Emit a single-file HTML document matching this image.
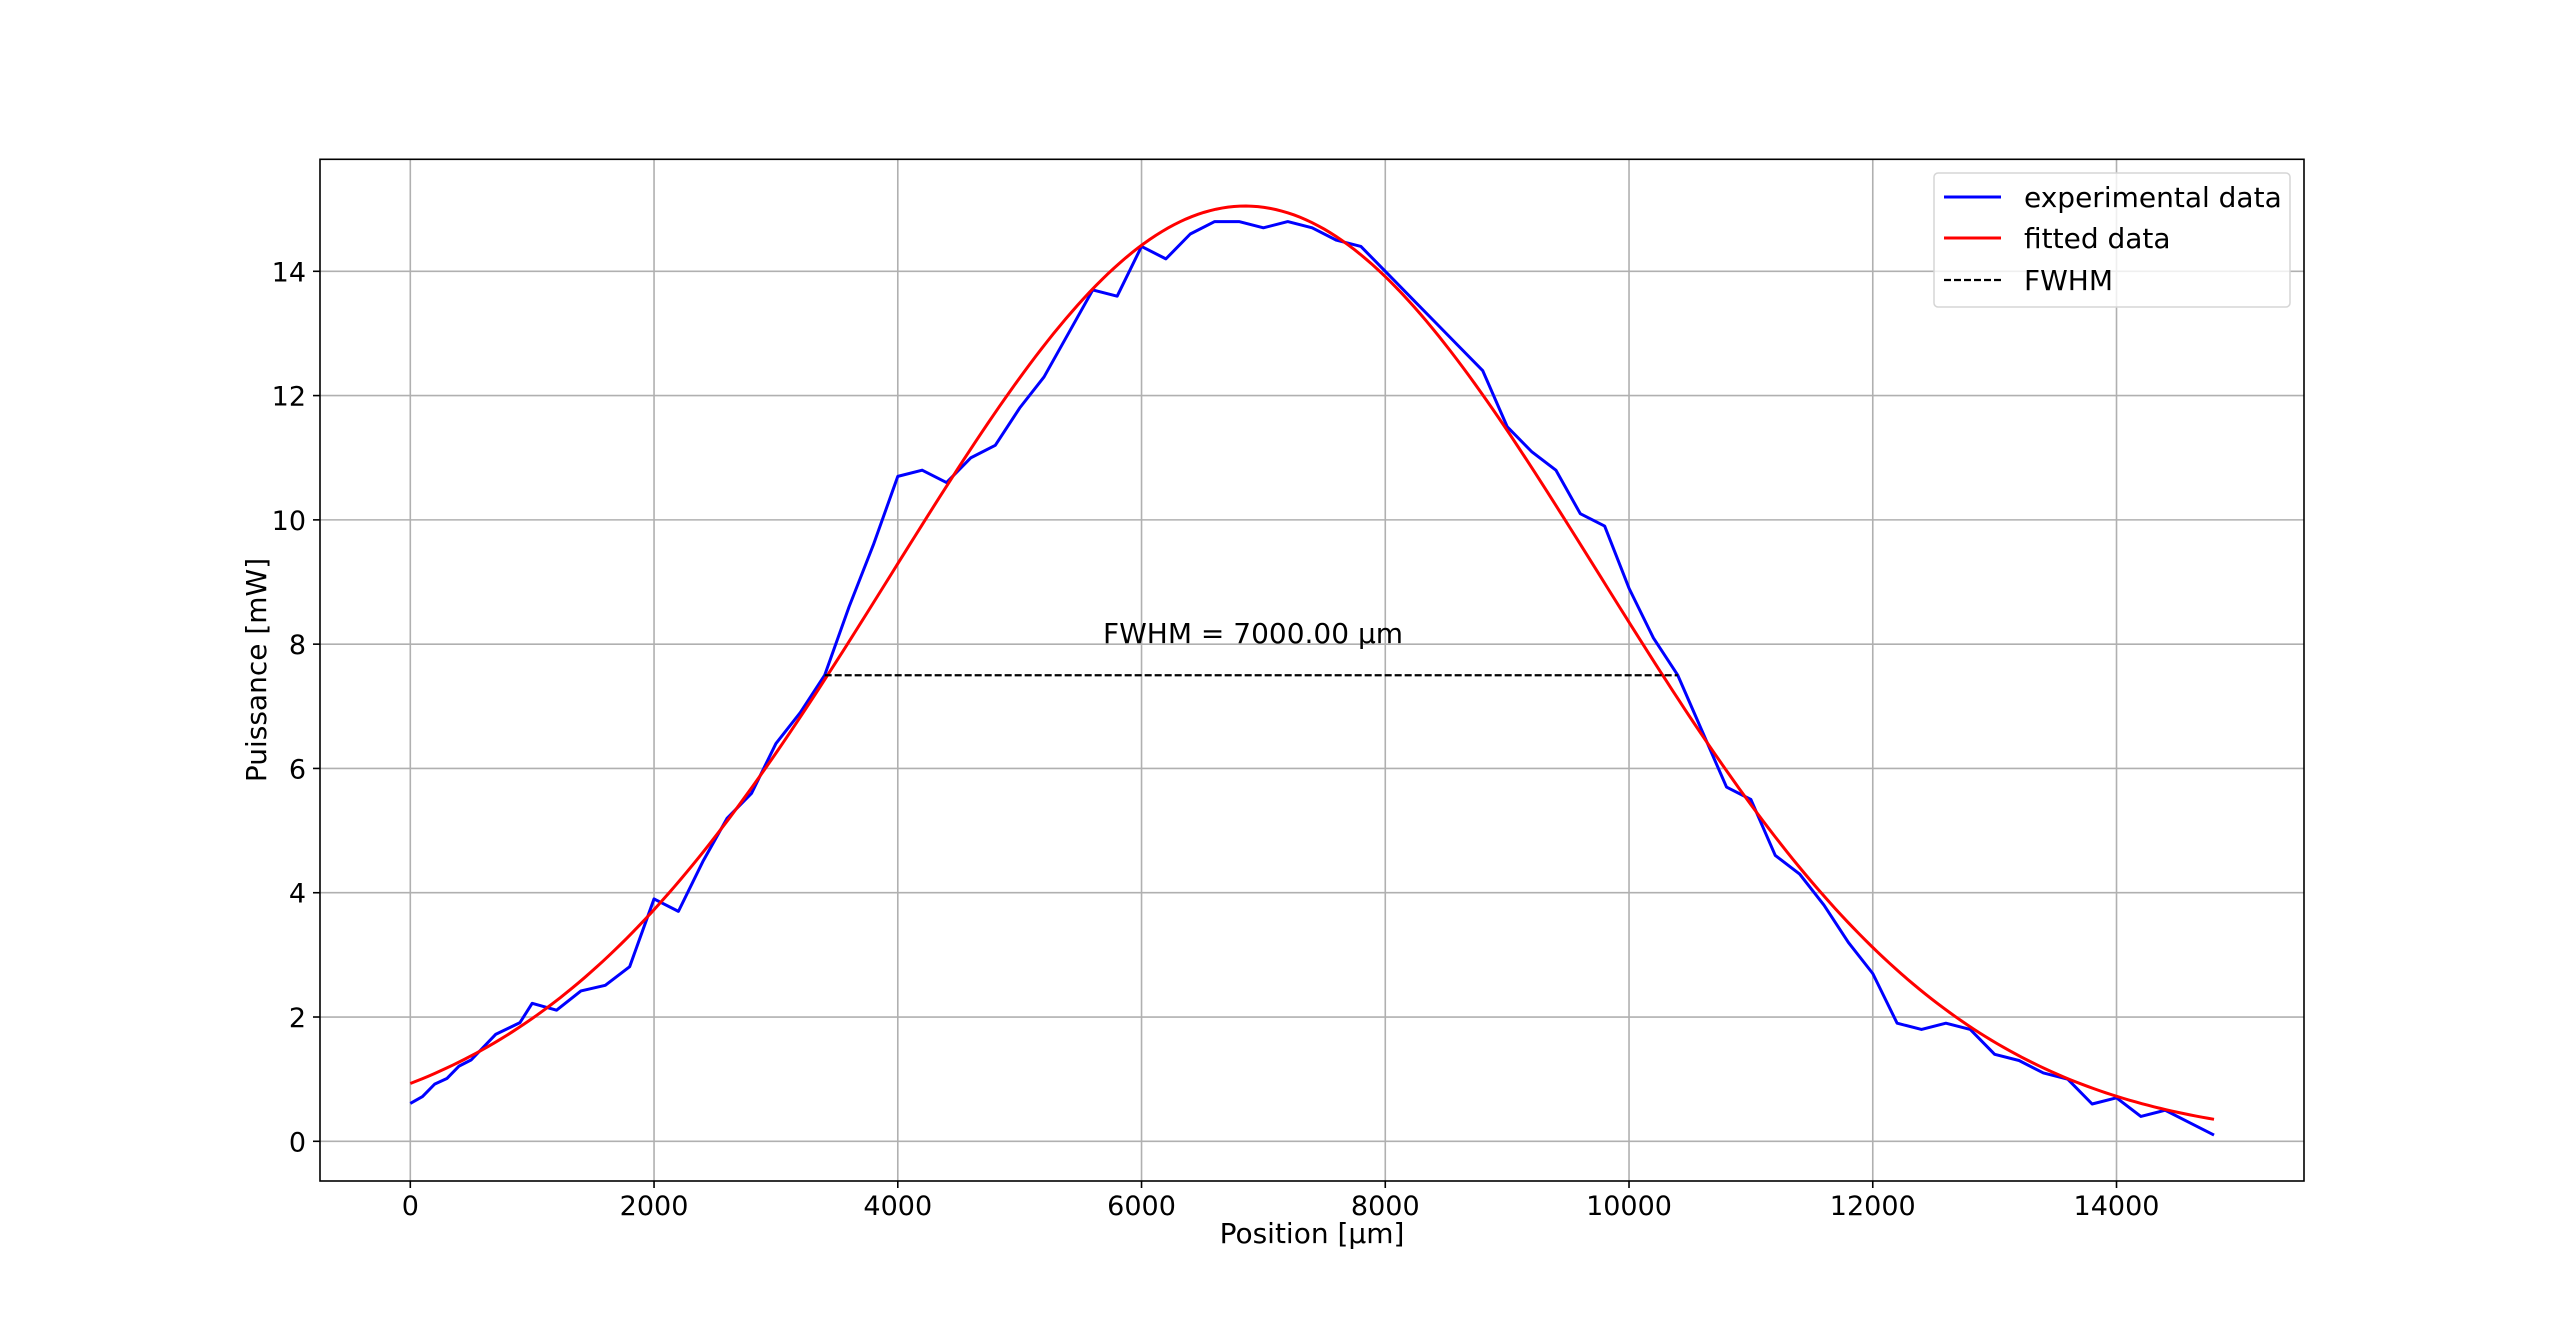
<!DOCTYPE html>
<html><head><meta charset="utf-8"><style>
html,body{margin:0;padding:0;background:#fff;}
svg{display:block;font-family:"DejaVu Sans","Liberation Sans",sans-serif;}
</style></head><body>
<svg id="chart" width="2560" height="1327" viewBox="0 0 2560 1327" xmlns="http://www.w3.org/2000/svg">
<rect x="0" y="0" width="2560" height="1327" fill="#fff"/>
<g id="grid"></g>
<g id="ticks"></g>
<g id="series"></g>
<rect x="320" y="159.3" width="1984" height="1021.7" fill="none" stroke="#000" stroke-width="1.6"/>
<text x="1312" y="1243" font-size="28" text-anchor="middle">Position [µm]</text>
<text x="0" y="0" font-size="28" text-anchor="middle" transform="translate(266,670) rotate(-90)">Puissance [mW]</text>
<g>
<rect x="1934" y="173" width="356" height="134" rx="4" fill="#fff" fill-opacity="0.8" stroke="#d5d5d5" stroke-width="1.5"/>
<g>
<line x1="1944" y1="197" x2="2001" y2="197" stroke="#0000ff" stroke-width="3"/>
<text x="2024" y="207" font-size="28">experimental data</text></g>
<g>
<line x1="1944" y1="238" x2="2001" y2="238" stroke="#ff0000" stroke-width="3"/>
<text x="2024" y="248" font-size="28">fitted data</text></g>
<g>
<line x1="1944" y1="280" x2="2001" y2="280" stroke="#000" stroke-width="2.2" stroke-dasharray="7,3"/>
<text x="2024" y="290" font-size="28">FWHM</text></g>
</g>
</svg>
<script>
const xTicks=[0,2000,4000,6000,8000,10000,12000,14000];
const yTicks=[0,2,4,6,8,10,12,14];
const expX=[0,100,200,300,400,500,700,900,1000,1200,1400,1600,1800,2000,2200,2400,2600,2800,3000,3200,3400,3600,3800,4000,4200,4400,4600,4800,5000,5200,5400,5600,5800,6000,6200,6400,6600,6800,7000,7200,7400,7600,7800,8000,8200,8400,8600,8800,9000,9200,9400,9600,9800,10000,10200,10400,10600,10800,11000,11200,11400,11600,11800,12000,12200,12400,12600,12800,13000,13200,13400,13600,13800,14000,14200,14400,14600,14800];
const expY=[0.61,0.72,0.92,1.01,1.21,1.31,1.72,1.91,2.22,2.11,2.42,2.51,2.81,3.9,3.7,4.5,5.2,5.6,6.4,6.9,7.5,8.6,9.6,10.7,10.8,10.6,11.0,11.2,11.8,12.3,13.0,13.7,13.6,14.4,14.2,14.6,14.8,14.8,14.7,14.8,14.7,14.5,14.4,14.0,13.6,13.2,12.8,12.4,11.5,11.1,10.8,10.1,9.9,8.9,8.1,7.5,6.6,5.7,5.5,4.6,4.3,3.8,3.2,2.7,1.9,1.8,1.9,1.8,1.4,1.3,1.1,1.0,0.6,0.7,0.4,0.5,0.3,0.1];
const fitParams=[15.05,6850,2903]; // amplitude, center, sigma
const fitRange=[0,14800];
const fwhmX=[3400,10400];
const fwhmY=[7.5];
const fwhmLabel=["FWHM = 7000.00 µm"];

const NS="http://www.w3.org/2000/svg";
const X=v=>410.3+v*0.121872;
const Y=v=>1141.3-v*62.143;
function mk(tag,attrs,parent){const e=document.createElementNS(NS,tag);for(const k in attrs)e.setAttribute(k,attrs[k]);parent.appendChild(e);return e;}
const grid=document.getElementById('grid'),ticks=document.getElementById('ticks'),series=document.getElementById('series');
xTicks.forEach(t=>{
  const g=mk('line',{x1:X(t),x2:X(t),y1:159.3,y2:1181,stroke:'#b0b0b0','stroke-width':1.6},grid);
  
  
  const tk=mk('line',{x1:X(t),x2:X(t),y1:1181,y2:1188,stroke:'#000','stroke-width':1.6},ticks);
  
  
  const tx=mk('text',{x:X(t),y:1215,'font-size':27,'text-anchor':'middle'},ticks);
  tx.textContent=t;
  
  
});
yTicks.forEach(t=>{
  const g=mk('line',{x1:320,x2:2304,y1:Y(t),y2:Y(t),stroke:'#b0b0b0','stroke-width':1.6},grid);
  
  
  const tk=mk('line',{x1:313,x2:320,y1:Y(t),y2:Y(t),stroke:'#000','stroke-width':1.6},ticks);
  
  
  const tx=mk('text',{x:306,y:Y(t)+10,'font-size':27,'text-anchor':'end'},ticks);
  tx.textContent=t;
  
  
});
// experimental
let d=expX.map((x,i)=>(i?'L':'M')+X(x).toFixed(2)+','+Y(expY[i]).toFixed(2)).join('');
const pe=mk('path',{d:d,fill:'none',stroke:'#0000ff','stroke-width':3,'stroke-linejoin':'round'},series);


// fitted
let fd='';
for(let i=0;i<=300;i++){const x=fitRange[0]+(fitRange[1]-fitRange[0])*i/300;const y=fitParams[0]*Math.exp(-Math.pow(x-fitParams[1],2)/(2*fitParams[2]*fitParams[2]));fd+=(i?'L':'M')+X(x).toFixed(2)+','+Y(y).toFixed(2);}
const pf=mk('path',{d:fd,fill:'none',stroke:'#ff0000','stroke-width':3},series);


// fwhm
const fl=mk('line',{x1:X(fwhmX[0]),x2:X(fwhmX[1]),y1:Y(fwhmY[0]),y2:Y(fwhmY[0]),stroke:'#000','stroke-width':2.2,'stroke-dasharray':'7,3'},series);


const ft=mk('text',{x:1103,y:643,'font-size':28},series);
ft.textContent=fwhmLabel[0];


</script>
</body></html>
